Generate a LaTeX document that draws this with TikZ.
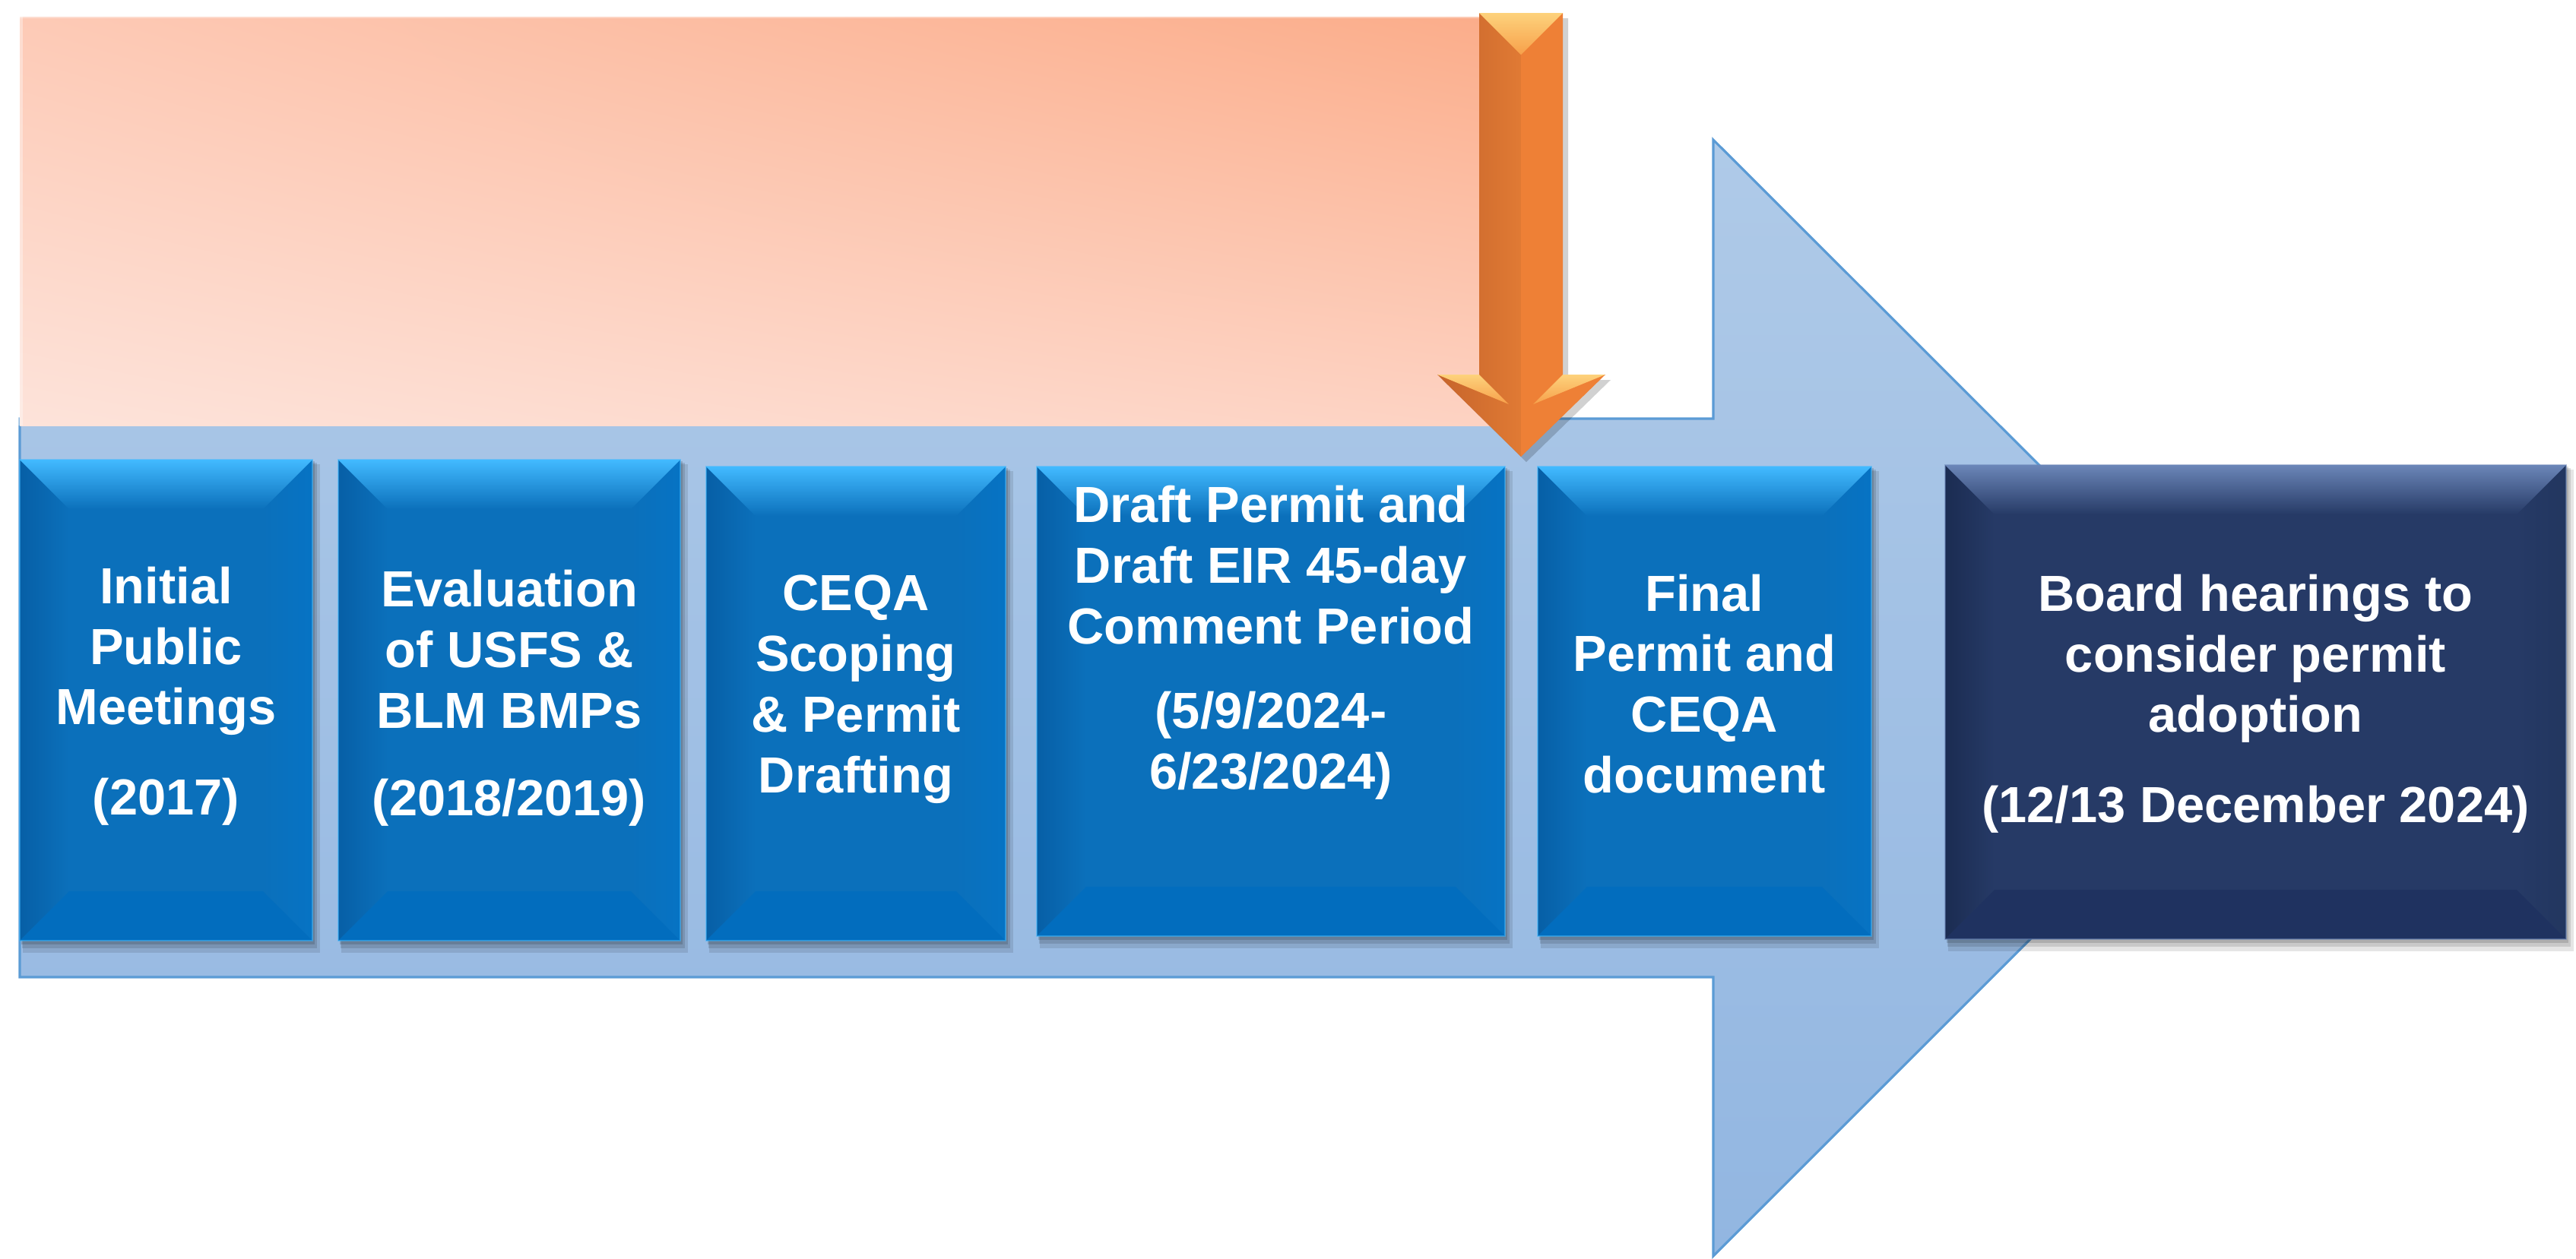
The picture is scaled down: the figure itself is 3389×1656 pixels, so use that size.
\documentclass[tikz,border=0pt]{standalone}
\usepackage{fontspec}
\setmainfont{Liberation Sans}
\usetikzlibrary{shadings}
\definecolor{arrowtop}{HTML}{AFCAE8}
\definecolor{arrowbot}{HTML}{92B6E1}
\definecolor{arrowline}{HTML}{5B9BD5}
\definecolor{bluebase}{HTML}{0B70BB}
\definecolor{bluelight}{HTML}{42BAFF}
\definecolor{blueleft}{HTML}{075FA6}
\definecolor{blueright}{HTML}{0673C4}
\definecolor{bluebot}{HTML}{026DBE}
\definecolor{navybase}{HTML}{263A66}
\definecolor{navylight}{HTML}{6B86B8}
\definecolor{navyleft}{HTML}{1B2C52}
\definecolor{navyright}{HTML}{22365F}
\definecolor{navybot}{HTML}{1F3260}
\definecolor{orA}{HTML}{C6642B}
\definecolor{orB}{HTML}{E07A34}
\definecolor{orC}{HTML}{EE8036}
\definecolor{orLight}{HTML}{FDD27C}
\definecolor{orMid}{HTML}{F7A04A}
\definecolor{peachUL}{HTML}{FDCAB6}
\definecolor{peachUR}{HTML}{FBAC89}
\definecolor{peachLL}{HTML}{FDE3DA}
\definecolor{peachLR}{HTML}{FDD2C2}
\tikzset{
  lbl/.style={text=white, font=\bfseries\fontsize{19}{22.7}\selectfont, align=center, inner sep=0pt},
}
% #1 name, #2 x1, #3 y1, #4 x2, #5 y2, #6 colour prefix, #7 text, #8 text y
\newcommand\bevbox[8]{%
  \fill[black,opacity=0.10] ({#2+4},{#3+6}) rectangle ({#4+10},{#5+16});
  \fill[black,opacity=0.12] ({#2+3},{#3+4}) rectangle ({#4+6},{#5+10});
  \fill[black,opacity=0.14] ({#2+2},{#3+2}) rectangle ({#4+3},{#5+5});
  \fill[#6base] (#2,#3) rectangle (#4,#5);
  \shade[left color=#6left, right color=#6base] (#2,#3) -- ({#2+65},{#3+65}) -- ({#2+65},{#5-65}) -- (#2,#5) -- cycle;
  \shade[left color=#6base, right color=#6right] (#4,#3) -- ({#4-65},{#3+65}) -- ({#4-65},{#5-65}) -- (#4,#5) -- cycle;
  \fill[#6bot] (#2,#5) -- ({#2+65},{#5-65}) -- ({#4-65},{#5-65}) -- (#4,#5) -- cycle;
  \shade[top color=#6light, bottom color=#6base] (#2,#3) -- (#4,#3) -- ({#4-65},{#3+65}) -- ({#2+65},{#3+65}) -- cycle;
  \draw[#6light, opacity=0.5, line width=0.4pt] (#2,#3) rectangle (#4,#5);
  \node[lbl] (#1) at ({(#2+#4)/2},#8) {#7};
}
\begin{document}
\begin{tikzpicture}[x=0.01cm, y=-0.01cm]
\useasboundingbox (0,0) rectangle (3389,1656);
% big block arrow
\shade[top color=arrowtop, bottom color=arrowbot, draw=arrowline, line width=0.9pt]
  (26,551) -- (2254,551) -- (2254,184) -- (2989,918) -- (2254,1653) -- (2254,1286) -- (26,1286) -- cycle;
% peach panel
\shade[upper left=peachUL, upper right=peachUR, lower left=peachLL, lower right=peachLR]
  (26,22) rectangle (2000,560);
\fill[white,opacity=0.35] (20,16) rectangle (2000,24);
\fill[white,opacity=0.35] (20,16) rectangle (30,560);
% orange down arrow
\fill[black,opacity=0.18] (1953,24) -- (2063,24) -- (2063,500) -- (2119,500) -- (2008,608) -- (1898,500) -- (1953,500) -- cycle;
\shade[left color=orA, right color=orB] (1946,17) -- (2001,17) -- (2001,601) -- (1891,493) -- (1946,493) -- cycle;
\fill[orC] (2001,17) -- (2056,17) -- (2056,493) -- (2112,493) -- (2001,601) -- cycle;
\shade[top color=orLight, bottom color=orMid] (1946,17) -- (2056,17) -- (2001,72) -- cycle;
\shade[top color=orLight, bottom color=orMid] (1891,493) -- (1946,493) -- (1985,532) -- cycle;
\shade[top color=orLight, bottom color=orMid] (2112,493) -- (2056,493) -- (2017,532) -- cycle;
% boxes
\bevbox{s1}{26}{605}{411}{1238}{blue}{Initial\\Public\\Meetings\\[11pt](2017)}{916}
\bevbox{s2}{445}{605}{895}{1238}{blue}{Evaluation\\of USFS \&\\BLM BMPs\\[10pt](2018/2019)}{919}
\bevbox{s3}{929}{614}{1323}{1238}{blue}{CEQA\\Scoping\\\& Permit\\Drafting}{907}
\bevbox{s4}{1364}{614}{1980}{1232}{blue}{Draft Permit and\\Draft EIR 45-day\\Comment Period\\[9pt](5/9/2024-\\6/23/2024)}{846}
\bevbox{s5}{2023}{614}{2462}{1232}{blue}{Final\\Permit and\\CEQA\\document}{900}
\bevbox{s6}{2559}{612}{3376}{1236}{navy}{Board hearings to\\consider permit\\adoption\\[11pt](12/13 December 2024)}{926}
\end{tikzpicture}
\end{document}
